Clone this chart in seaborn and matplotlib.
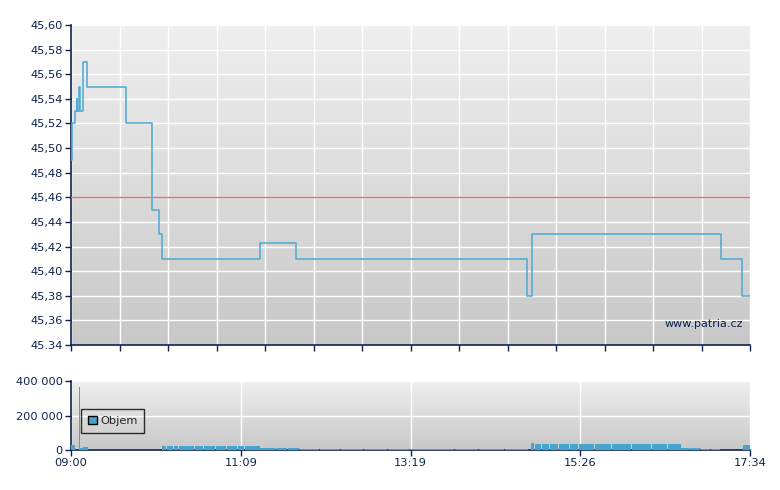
import numpy as np
import pandas as pd
import matplotlib
matplotlib.use("Agg")
import matplotlib.pyplot as plt
import seaborn as sns
from matplotlib.patches import Patch

# ---------------- data ----------------
# price: minutes after 09:00, step-post values
price_time = [0, 1, 3, 4.3, 4.8, 6, 6.6, 7.6, 9.1, 12.1, 42, 61.3, 66.8, 68.9,
              143, 170, 345, 349, 492, 508, 514]
price_value = [45.49, 45.52, 45.53, 45.54, 45.53, 45.55, 45.53, 45.53, 45.57, 45.55,
               45.52, 45.45, 45.43, 45.41, 45.423, 45.41, 45.38, 45.43, 45.41,
               45.38, 45.38]
prev_close = 45.46

# volume segments (minutes after 09:00)
vol_start = [0, 6.2, 6.9, 9.1,
             68.9, 72.7, 77.6, 82.0, 89.6, 94.0, 100.4, 109.8, 117.8, 126.4, 131.8,
             143, 156, 164,
             173, 188.6, 204.6, 221.6, 239.6, 256.6, 273.6, 290.6, 308.6, 328.6,
             348, 351.6, 356.6, 362.6, 369.6, 377.6, 384.6, 396.6, 409.6, 424.6, 439.6, 451.6,
             462, 468.7, 476.7, 484.7,
             509]
vol_end = [3, 6.8, 9.1, 12.9,
           72, 77, 81, 89, 93, 100, 109, 117, 126, 131, 143,
           155.3, 163.3, 172.3,
           188, 204, 221, 239, 256, 273, 290, 308, 328, 346,
           350.8, 356, 362, 369, 377, 384, 396, 409, 424, 439, 451, 462,
           468, 476, 484, 491,
           514]
vol_value = [29000, 365000, 13000, 19000,
             23000, 23000, 23000, 23000, 23000, 23000, 23000, 23000, 23000, 23000, 23000,
             11000, 11000, 9000,
             5000, 5000, 6000, 5000, 5000, 6000, 5000, 5000, 5000, 6000,
             38000, 36000, 36000, 36000, 36000, 36000, 36000, 36000, 36000, 36000, 36000, 36000,
             9000, 9000, 7000, 6000,
             27000]

price_yticks = [45.34, 45.36, 45.38, 45.40, 45.42, 45.44, 45.46, 45.48, 45.50,
                45.52, 45.54, 45.56, 45.58, 45.60]
price_ylabels = ["45.34", "45,36", "45,38", "45,40", "45,42", "45,44", "45,46",
                 "45,48", "45,50", "45,52", "45,54", "45,56", "45,58", "45,60"]
time_ticks = [0, 128.5, 257, 385.5, 514]
time_labels = ["09:00", "11:09", "13:19", "15:26", "17:34"]
vol_ticks = [0, 200000, 400000]
vol_labels = ["0", "200 000", "400 000"]

# ---------------- style ----------------
sns.set_theme(style="white")
plt.rcParams["font.family"] = ["DejaVu Sans"]
NAVY = "#0d2250"
LINE = "#52aad4"
BAR = "#46a5cf"

fig = plt.figure(figsize=(7.8, 4.9), dpi=100)
ax1 = fig.add_axes([71/780, 1-345/490, 679/780, 320/490])
ax2 = fig.add_axes([71/780, 1-450/490, 679/780, 69/490])

grad = np.linspace(0, 1, 256).reshape(-1, 1)
cmap = matplotlib.colors.LinearSegmentedColormap.from_list("bg", ["#efefef", "#c8c8c8"])

for ax in (ax1, ax2):
    ax.imshow(grad, aspect="auto", cmap=cmap, extent=[0, 1, 0, 1],
              transform=ax.transAxes, zorder=0)
    for s in ("top", "right"):
        ax.spines[s].set_visible(False)
    for s in ("left", "bottom"):
        ax.spines[s].set_color(NAVY)
        ax.spines[s].set_linewidth(1.2)
    ax.tick_params(axis="both", direction="out", length=4, width=1, color=NAVY,
                   labelcolor=NAVY, labelsize=8.2, left=True, bottom=True, pad=2)
    ax.set_xlim(0, 514)

# ---- price panel ----
df = pd.DataFrame({"t": price_time, "p": price_value})
sns.lineplot(data=df, x="t", y="p", ax=ax1, color=LINE, linewidth=1.15,
             drawstyle="steps-post", zorder=4)
ax1.axhline(prev_close, color="#e07070", linewidth=1.0, zorder=3)
ax1.set_ylim(45.34, 45.60)
ax1.set_yticks(price_yticks)
ax1.set_yticklabels(price_ylabels)
ax1.set_xticks(np.linspace(0, 514, 15))
ax1.set_xticklabels([])
ax1.grid(True, color="white", linewidth=1.0, zorder=1)
for gl in ax1.get_xgridlines() + ax1.get_ygridlines():
    gl.set_zorder(1)
ax1.set_xlabel("")
ax1.set_ylabel("")
ax1.text(0.99, 0.066, "www.patria.cz", transform=ax1.transAxes, ha="right",
         va="center", fontsize=8, color=NAVY, zorder=5)

# ---- volume panel ----
widths = [e - s for s, e in zip(vol_start, vol_end)]
ax2.bar(vol_start, vol_value, width=widths, align="edge", color=BAR,
        linewidth=0, zorder=3)
ax2.set_ylim(0, 400000)
ax2.set_yticks(vol_ticks)
ax2.set_yticklabels(vol_labels)
ax2.set_xticks(time_ticks)
ax2.set_xticklabels(time_labels)
ax2.grid(True, color="white", linewidth=1.0, zorder=1)
for gl in ax2.get_xgridlines() + ax2.get_ygridlines():
    gl.set_zorder(1)
ax2.set_xlabel("")
ax2.set_ylabel("")
leg = ax2.legend(handles=[Patch(facecolor=BAR, edgecolor="black", label="Objem")],
                 loc="upper left", bbox_to_anchor=(0.006, 0.68), frameon=True,
                 fancybox=False, handlelength=0.8, handleheight=0.8,
                 handletextpad=0.3, borderpad=0.6, fontsize=8.2)
leg.get_frame().set_edgecolor("black")
leg.get_frame().set_facecolor("none")
leg.get_frame().set_linewidth(1.0)

fig.savefig("out.png", dpi=100)
